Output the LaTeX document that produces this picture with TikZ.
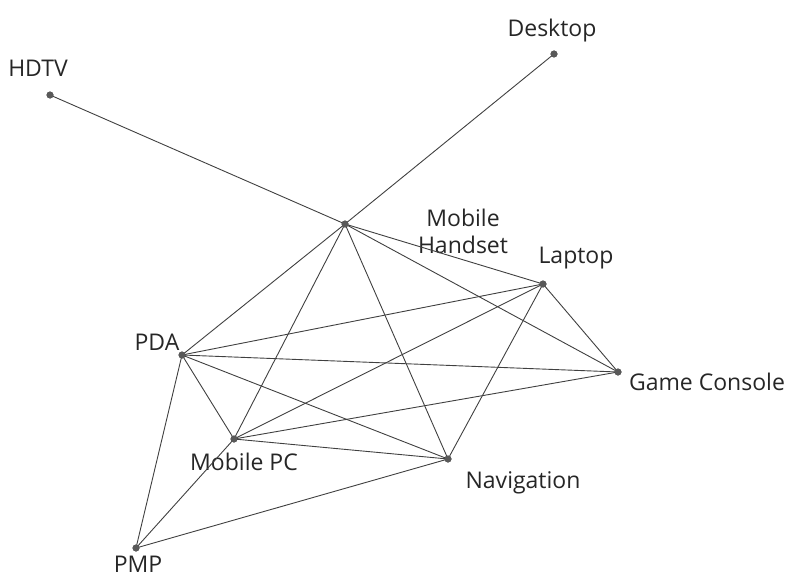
\documentclass[tikz,border=0pt]{standalone}
\usepackage{fontspec}
\setmainfont{Open Sans}
\begin{document}
\begin{tikzpicture}[x=1pt,y=-1pt,
  vtx/.style={circle,fill=black!65,inner sep=0pt,minimum size=7pt},
  lbl/.style={font=\fontsize{23}{27}\selectfont,text=black!85,inner sep=0pt,align=center},
  edge/.style={draw=black!75,line width=0.9pt}]
\useasboundingbox (0,0) rectangle (790,578);
% vertices
\node[vtx] (hdtv) at (50,95) {};
\node[vtx] (desk) at (554,54) {};
\node[vtx] (mh) at (345,224) {};
\node[vtx] (lap) at (543,284) {};
\node[vtx] (pda) at (182,355) {};
\node[vtx] (gc) at (618,372) {};
\node[vtx] (mpc) at (234,439) {};
\node[vtx] (nav) at (448,459) {};
\node[vtx] (pmp) at (136,548) {};
% labels
\node[lbl] (lhdtv) at (38,68) {HDTV};
\node[lbl] (ldesk) at (552,31) {Desktop};
\node[lbl] (lmh) at (463,231) {Mobile\\Handset};
\node[lbl] (llap) at (576,258) {Laptop};
\node[lbl] (lpda) at (157,342) {PDA};
\node[lbl] (lgc) at (707,382) {Game Console};
\node[lbl] (lmpc) at (244,462) {Mobile PC};
\node[lbl] (lnav) at (523,483) {Navigation};
\node[lbl] (lpmp) at (138,564) {PMP};
% edges
\foreach \a/\b in {hdtv/mh,desk/mh,mh/lap,mh/gc,mh/nav,mh/mpc,mh/pda,
  lap/pda,lap/mpc,lap/gc,lap/nav,pda/gc,pda/nav,pda/mpc,pda/pmp,
  mpc/gc,mpc/nav,mpc/pmp,pmp/nav}
  \draw[edge] (\a.center) -- (\b.center);
\foreach \n in {hdtv,desk,mh,lap,pda,gc,mpc,nav,pmp}
  \fill[black!65] (\n) circle (3.5pt);
\end{tikzpicture}
\end{document}
